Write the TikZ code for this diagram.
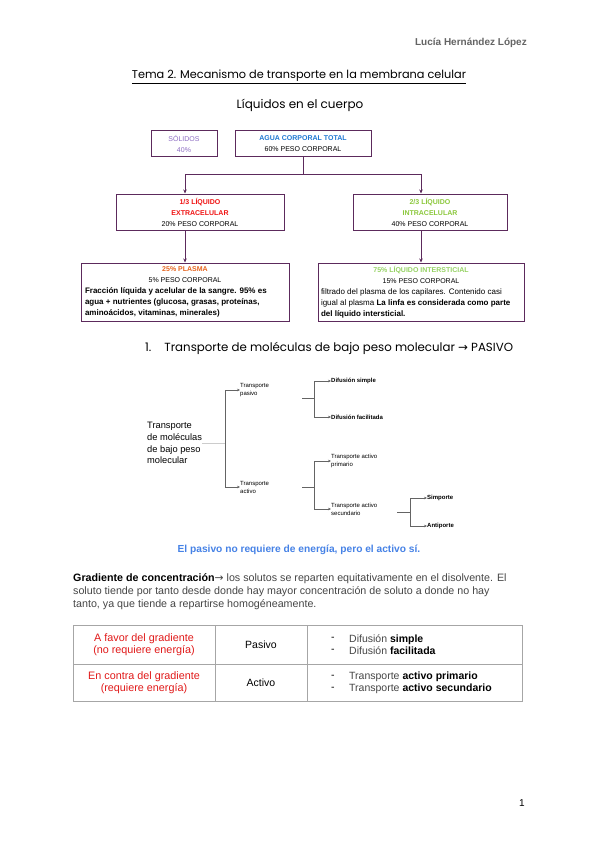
\documentclass[tikz,border=0pt]{standalone}
\usepackage{fontspec}
\setmainfont{Liberation Sans}
\newfontfamily\titlefont{Poppins}
\newfontfamily\symfont{DejaVu Sans}
\usetikzlibrary{arrows.meta,calc}
\definecolor{boxpurple}{RGB}{92,42,92}
\definecolor{solidC}{RGB}{142,110,195}
\definecolor{aguaC}{RGB}{30,120,210}
\definecolor{extraC}{RGB}{240,20,20}
\definecolor{intraC}{RGB}{140,200,60}
\definecolor{plasmaC}{RGB}{230,100,30}
\definecolor{interC}{RGB}{150,210,100}
\definecolor{blueS}{RGB}{70,130,230}
\definecolor{tabred}{RGB}{225,25,25}
\definecolor{headgray}{RGB}{100,100,100}
\definecolor{treegray}{RGB}{100,100,100}
\definecolor{txtgray}{RGB}{70,70,70}
\tikzset{
  box/.style={draw=boxpurple, line width=1pt, inner sep=0pt, align=center},
  conn/.style={draw=boxpurple, line width=1pt},
  connarr/.style={conn, -{Stealth[length=4pt,width=3.5pt]}},
  tline/.style={draw=treegray, line width=0.7pt},
  tarr/.style={tline, -{Stealth[length=3pt,width=2.6pt]}},
  ttext/.style={anchor=west, align=left, inner sep=0pt, font=\fontsize{6}{8}\selectfont},
  cell/.style={draw=gray!70, line width=0.9pt, inner sep=0pt, align=center},
}
\begin{document}
\begin{tikzpicture}[x=1pt,y=-1pt]
\useasboundingbox[fill=white] (0,0) rectangle (600,848);

% header
\node[anchor=east, inner sep=0pt, text=headgray, font=\fontsize{10}{12}\selectfont\bfseries] (author) at (527,43) {Lucía Hernández López};
\node[inner sep=0pt, font=\titlefont\fontsize{11.3}{13}\selectfont] (title) at (299,77) {\underline{Tema 2. Mecanismo de transporte en la membrana celular}};
\node[inner sep=0pt, font=\titlefont\fontsize{12}{14}\selectfont] (liq) at (300,105) {Líquidos en el cuerpo};

% boxes
\node[box, minimum width=66pt, minimum height=25pt, font=\fontsize{7}{11}\selectfont] (solidos) at (184,143.5)
  {\textcolor{solidC}{SÓLIDOS}\\\textcolor{solidC}{40\%}};
\node[box, minimum width=136pt, minimum height=25pt, font=\fontsize{7}{11}\selectfont] (agua) at (303,143.5)
  {\textcolor{aguaC}{\bfseries AGUA CORPORAL TOTAL}\\60\% PESO CORPORAL};
\node[box, minimum width=168pt, minimum height=36pt, font=\fontsize{7}{11}\selectfont] (extra) at (200,212)
  {\textcolor{extraC}{\bfseries 1/3 LÍQUIDO}\\\textcolor{extraC}{\bfseries EXTRACELULAR}\\20\% PESO CORPORAL};
\node[box, minimum width=154pt, minimum height=36pt, font=\fontsize{7}{11}\selectfont] (intra) at (430,212)
  {\textcolor{intraC}{\bfseries 2/3 LÍQUIDO}\\\textcolor{intraC}{\bfseries INTRACELULAR}\\40\% PESO CORPORAL};
\node[box, minimum width=208pt, minimum height=58pt, font=\fontsize{7}{11}\selectfont] (plasma) at (185,292)
  {\parbox{200pt}{\centering\textcolor{plasmaC}{\bfseries 25\% PLASMA}\\5\% PESO CORPORAL\par
   \fontsize{8}{11}\selectfont\raggedright\bfseries Fracción líquida y acelular de la sangre. 95\% es\\agua + nutrientes (glucosa, grasas, proteínas,\\aminoácidos, vitaminas, minerales)}};
\node[box, minimum width=206pt, minimum height=58pt, font=\fontsize{7}{11}\selectfont] (inter) at (421,292)
  {\parbox{200pt}{\centering\textcolor{interC}{\bfseries 75\% LÍQUIDO INTERSTICIAL}\\15\% PESO CORPORAL\par
   \fontsize{8}{11}\selectfont\raggedright filtrado del plasma de los capilares. Contenido casi\\igual al plasma \textbf{La linfa es considerada como parte}\\\textbf{del líquido intersticial.}}};

\coordinate (bus) at (0,174);
\coordinate (xe) at (185,0);
\coordinate (xi) at (421,0);
\draw[conn] (agua.south) -- (agua.south |- bus);
\draw[connarr] (agua.south |- bus) -| (xe |- extra.north);
\draw[connarr] (agua.south |- bus) -| (xi |- intra.north);
\draw[connarr] (xe |- extra.south) -- (xe |- plasma.north);
\draw[connarr] (xi |- intra.south) -- (xi |- inter.north);

% section heading
\node[anchor=west, inner sep=0pt, font=\titlefont\fontsize{11.8}{13}\selectfont] (sec) at (145,348)
  {1.\hspace{13pt}Transporte de moléculas de bajo peso molecular {\symfont →} PASIVO};

% tree
\node[anchor=west, align=left, inner sep=0pt, font=\fontsize{9.3}{11.7}\selectfont] (root) at (147,443)
  {Transporte\\de moléculas\\de bajo peso\\molecular};
\node[ttext] (pasivo) at (240,390) {Transporte\\pasivo};
\node[ttext] (activo) at (240,487) {Transporte\\activo};
\node[ttext, font=\fontsize{6}{8}\selectfont\bfseries] (dsimple) at (331,381) {Difusión simple};
\node[ttext, font=\fontsize{6}{8}\selectfont\bfseries] (dfacil) at (331,417) {Difusión facilitada};
\node[ttext] (prim) at (331,461) {Transporte activo\\primario};
\node[ttext] (secu) at (331,509) {Transporte activo\\secundario};
\node[ttext, font=\fontsize{6}{8}\selectfont\bfseries] (simp) at (427,498) {Simporte};
\node[ttext, font=\fontsize{6}{8}\selectfont\bfseries] (anti) at (427,526) {Antiporte};

\coordinate (v1) at (225,0);
\coordinate (v2) at (314,0);
\coordinate (v3) at (410,0);
\draw[tline, draw=gray!40] (root.east) -- (v1 |- root.east);
\draw[tline] (v1 |- pasivo.west) -- (v1 |- activo.west);
\draw[tarr] (v1 |- pasivo.west) -- (pasivo.west);
\draw[tarr] (v1 |- activo.west) -- (activo.west);
\coordinate (p1) at (302,398);
\draw[tline] (p1) -- (v2 |- p1);
\draw[tline] (v2 |- dsimple.west) -- (v2 |- dfacil.west);
\draw[tarr] (v2 |- dsimple.west) -- (dsimple.west);
\draw[tarr] (v2 |- dfacil.west) -- (dfacil.west);
\coordinate (p2) at (302,487);
\draw[tline] (p2) -- (v2 |- p2);
\draw[tline] (v2 |- prim.west) -- (v2 |- secu.west);
\draw[tarr] (v2 |- prim.west) -- (prim.west);
\draw[tarr] (v2 |- secu.west) -- (secu.west);
\coordinate (p3) at (397,512);
\draw[tline] (p3) -- (v3 |- p3);
\draw[tline] (v3 |- simp.west) -- (v3 |- anti.west);
\draw[tarr] (v3 |- simp.west) -- (simp.west);
\draw[tarr] (v3 |- anti.west) -- (anti.west);

% blue sentence
\node[inner sep=0pt, text=blueS, font=\fontsize{10.2}{12}\selectfont\bfseries] (blue) at (299,550)
  {El pasivo no requiere de energía, pero el activo sí.};

% paragraph
\node[anchor=north west, align=left, inner sep=0pt, text=txtgray, font=\fontsize{10.7}{13}\selectfont] (para) at (73,573)
  {\textcolor{black}{\bfseries Gradiente de concentración}{\symfont →} los solutos se reparten equitativamente en el disolvente. El\\
   soluto tiende por tanto desde donde hay mayor concentración de soluto a donde no hay\\
   tanto, ya que tiende a repartirse homogéneamente.};

% table
\node[cell, minimum width=142pt, minimum height=39pt, text=tabred, font=\fontsize{10.8}{12}\selectfont] (c11) at (144,644.5)
  {A favor del gradiente\\(no requiere energía)};
\node[cell, minimum width=92pt, minimum height=39pt, font=\fontsize{10.5}{12}\selectfont] (c12) at (261,644.5) {Pasivo};
\node[cell, minimum width=215pt, minimum height=39pt] (c13) at (414.5,644.5) {};
\node[cell, minimum width=142pt, minimum height=37pt, text=tabred, font=\fontsize{10.8}{12}\selectfont] (c21) at (144,682.5)
  {En contra del gradiente\\(requiere energía)};
\node[cell, minimum width=92pt, minimum height=37pt, font=\fontsize{10.5}{12}\selectfont] (c22) at (261,682.5) {Activo};
\node[cell, minimum width=215pt, minimum height=37pt] (c23) at (414.5,682.5) {};
\node[anchor=west, align=left, inner sep=0pt, font=\fontsize{10.5}{12}\selectfont] (l13) at (331,644.5)
  {-\\-};
\node[anchor=west, align=left, inner sep=0pt, text=txtgray, font=\fontsize{10.5}{12}\selectfont] (t13) at (349,644.5)
  {Difusión \textcolor{black}{\bfseries simple}\\Difusión \textcolor{black}{\bfseries facilitada}};
\node[anchor=west, align=left, inner sep=0pt, font=\fontsize{10.5}{12}\selectfont] (l23) at (331,682.5)
  {-\\-};
\node[anchor=west, align=left, inner sep=0pt, text=txtgray, font=\fontsize{10.5}{12}\selectfont] (t23) at (349,682.5)
  {Transporte \textcolor{black}{\bfseries activo primario}\\Transporte \textcolor{black}{\bfseries activo secundario}};

% page number
\node[inner sep=0pt, font=\fontsize{10}{12}\selectfont] (pnum) at (522,803) {1};
\end{tikzpicture}
\end{document}
